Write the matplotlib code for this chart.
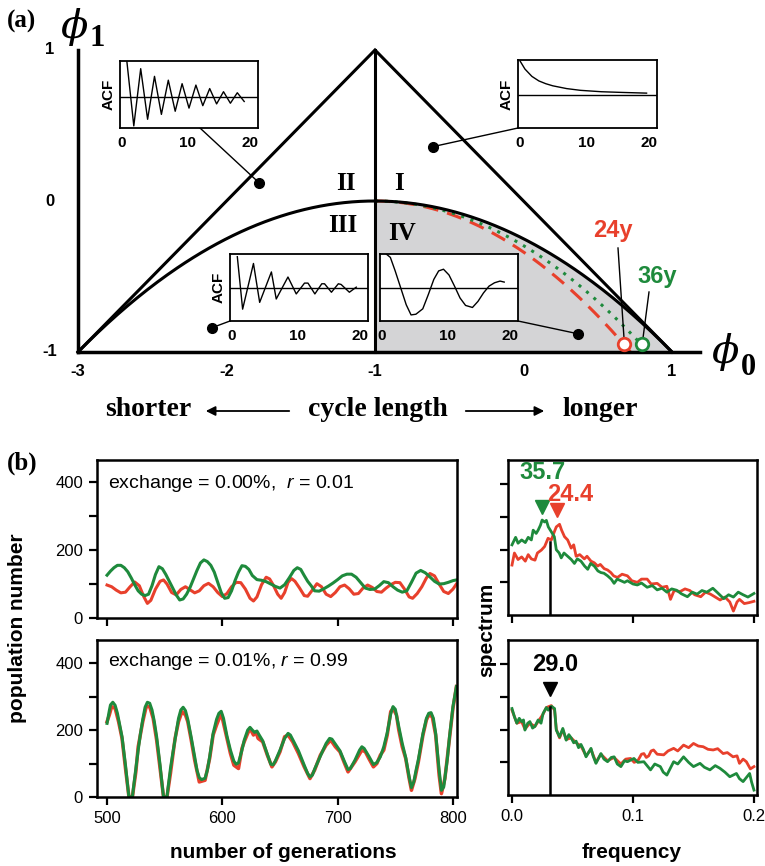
import numpy as np
import matplotlib
matplotlib.use('Agg')
import matplotlib.pyplot as plt

plt.rcParams['font.family'] = ['Liberation Sans', 'DejaVu Sans']
plt.rcParams['mathtext.fontset'] = 'custom'
plt.rcParams['mathtext.it'] = 'Liberation Sans:italic'
plt.rcParams['mathtext.rm'] = 'Liberation Sans'

RED = '#e8402c'
GREEN = '#1e8a3c'
GRAY = '#d4d4d6'
SERIF = ['Liberation Serif', 'DejaVu Serif']

# ---------------- data, panel (a) ----------------
tri_phi0 = [-3, -1, 1]
tri_phi1 = [-1, 1, -1]
# where the boundary / 24y / 36y curves reach phi1 = -1
end_black, end_red, end_green = 1.0, 0.72, 0.84
# AR points the ACF insets belong to (II, I, III, IV)
pt_phi0 = [-1.78, -0.61, -2.10, 0.37]
pt_phi1 = [0.12, 0.36, -0.84, -0.88]
# 24y / 36y points
cyc_phi0 = [0.68, 0.80]
cyc_phi1 = [-0.95, -0.95]

acf_II_lag = list(range(1, 19))
acf_II_val = [1.0, -0.84, 0.8, -0.65, 0.58, -0.51, 0.47, -0.42, 0.37, -0.33,
              0.33, -0.26, 0.23, -0.21, 0.14, -0.19, 0.11, -0.14]
acf_I_lag = [0.3, 1, 2, 3, 4, 5, 7, 9, 12, 15, 18.5]
acf_I_val = [0.97, 0.74, 0.53, 0.4, 0.32, 0.26, 0.18, 0.13, 0.09, 0.07, 0.05]
acf_III_lag = [1.06, 1.83, 3.4, 4.3, 6.0, 6.7, 8.4, 9.6, 10.8, 11.3, 12.3, 13.3,
               13.7, 14.7, 15.7, 16.1, 17.3, 18.3]
acf_III_val = [0.92, -0.63, 0.72, -0.43, 0.47, -0.33, 0.32, -0.18, 0.14, 0.14,
               -0.18, 0.12, 0.12, -0.13, 0.12, 0.1, -0.13, 0.02]
acf_IV_lag = [0.9, 1.5, 2.2, 3.0, 3.8, 4.5, 5.2, 6.2, 7.0, 7.8, 8.5, 9.2, 10.0,
              10.8, 11.6, 12.4, 13.4, 14.2, 15.0, 15.8, 16.6, 17.4, 18.0]
acf_IV_val = [1.0, 0.9, 0.5, 0.0, -0.5, -0.8, -0.78, -0.62, -0.2, 0.25, 0.5, 0.55,
              0.38, 0.05, -0.3, -0.52, -0.58, -0.4, -0.15, 0.05, 0.15, 0.2, 0.17]

# ---------------- data, panel (b): (generation, population) ----------------
top_red = np.array([
    (500, 97), (504, 92), (508, 82), (512, 74), (516, 76), (520, 92), (524, 106), (528, 95),
    (532, 62), (535, 43), (538, 52), (542, 85), (546, 108), (549, 112), (552, 100), (556, 75),
    (560, 68), (564, 84), (568, 92), (572, 83), (576, 74), (580, 80), (584, 95), (588, 102),
    (592, 92), (596, 75), (600, 63), (604, 72), (608, 92), (612, 105), (616, 104), (620, 85),
    (624, 58), (627, 50), (630, 62), (634, 98), (638, 120), (641, 115), (644, 98), (648, 70),
    (651, 58), (654, 75), (657, 105), (660, 116), (663, 108), (667, 88), (671, 66), (674, 64),
    (678, 82), (682, 101), (686, 92), (690, 70), (694, 63), (698, 75), (702, 92), (706, 97),
    (710, 86), (714, 70), (718, 72), (722, 88), (726, 97), (730, 90), (734, 78), (738, 76),
    (742, 88), (746, 98), (750, 105), (754, 104), (758, 85), (762, 62), (765, 58), (769, 72),
    (773, 92), (777, 118), (780, 131), (784, 124), (788, 100), (792, 78), (796, 72), (800, 85),
    (803, 100)])
top_green = np.array([
    (500, 126), (503, 138), (506, 148), (509, 155), (512, 155), (515, 148), (518, 136), (521, 118),
    (524, 98), (527, 80), (530, 70), (533, 66), (536, 70), (539, 95), (542, 128), (545, 151),
    (548, 145), (551, 128), (554, 108), (557, 88), (560, 68), (563, 53), (566, 56), (569, 70),
    (572, 90), (575, 115), (578, 140), (581, 162), (584, 171), (587, 166), (590, 155), (593, 135),
    (596, 105), (599, 75), (602, 58), (605, 60), (608, 80), (611, 110), (614, 135), (617, 154),
    (620, 152), (623, 143), (626, 125), (630, 113), (634, 111), (638, 107), (642, 100), (646, 93),
    (650, 88), (654, 98), (658, 118), (662, 140), (665, 148), (668, 143), (671, 125), (674, 108),
    (677, 95), (680, 80), (684, 79), (688, 86), (692, 94), (696, 103), (700, 113), (704, 124),
    (708, 129), (712, 129), (716, 120), (720, 104), (724, 88), (728, 84), (732, 85), (736, 95),
    (740, 107), (744, 104), (748, 92), (752, 82), (756, 76), (760, 80), (764, 105), (768, 132),
    (772, 140), (776, 133), (780, 121), (784, 108), (788, 100), (792, 101), (796, 105), (800, 110),
    (803, 112)])
bot_red = np.array([
    (500, 225), (502, 245), (504, 270), (507, 265), (510, 225), (513, 175), (516, 85), (519, 0),
    (522, 0), (525, 75), (527, 150), (531, 225), (534, 270), (537, 270), (540, 235), (543, 170),
    (546, 85), (549, 0), (552, 0), (555, 70), (559, 175), (562, 225), (565, 255), (568, 245),
    (570, 225), (573, 170), (576, 110), (580, 45), (585, 50), (589, 115), (592, 185), (595, 215),
    (599, 250), (602, 205), (604, 175), (607, 130), (610, 95), (614, 85), (617, 145), (619, 165),
    (622, 190), (624, 205), (627, 185), (629, 195), (631, 175), (635, 165), (639, 125), (643, 90),
    (646, 105), (650, 135), (654, 180), (657, 185), (661, 165), (666, 130), (671, 90), (676, 55),
    (680, 80), (685, 125), (690, 155), (694, 170), (698, 150), (702, 135), (706, 100), (709, 75),
    (712, 90), (715, 105), (721, 140), (724, 135), (727, 115), (731, 90), (734, 100), (737, 125),
    (740, 140), (743, 185), (746, 255), (748, 265), (751, 245), (753, 200), (756, 150), (759, 115),
    (762, 55), (764, 20), (767, 55), (770, 105), (774, 185), (777, 230), (779, 245), (782, 240),
    (785, 185), (788, 65), (790, 10), (793, 55), (797, 175), (800, 265), (803, 330)])
bot_green = np.array([
    (500, 220), (502, 258), (503, 275), (505, 283), (507, 274), (509, 250), (511, 215), (513, 180),
    (516, 95), (518, 30), (519, 0), (522, 0), (523, 30), (525, 85), (527, 140), (529, 190),
    (531, 232), (533, 268), (535, 283), (537, 280), (539, 260), (541, 225), (543, 180), (546, 95),
    (548, 30), (549, 0), (552, 0), (553, 30), (555, 85), (557, 130), (559, 172), (562, 235),
    (564, 260), (566, 268), (568, 258), (570, 232), (573, 178), (576, 120), (578, 80), (580, 58),
    (582, 52), (585, 56), (587, 80), (589, 120), (592, 190), (595, 232), (597, 250), (599, 256),
    (601, 235), (604, 182), (607, 140), (610, 107), (612, 98), (614, 102), (617, 140), (619, 170),
    (622, 200), (624, 208), (626, 200), (628, 193), (630, 197), (632, 185), (635, 168), (639, 128),
    (642, 98), (644, 96), (646, 108), (650, 140), (654, 175), (657, 190), (659, 185), (662, 165),
    (666, 138), (671, 95), (674, 70), (676, 60), (678, 65), (680, 83), (685, 122), (690, 160),
    (693, 175), (695, 173), (698, 158), (702, 138), (706, 105), (709, 82), (711, 85), (715, 110),
    (719, 140), (721, 150), (723, 145), (727, 122), (731, 97), (734, 103), (737, 120), (740, 150),
    (743, 192), (746, 248), (748, 270), (750, 262), (753, 210), (756, 160), (759, 118), (762, 60),
    (764, 28), (766, 45), (768, 80), (770, 112), (774, 190), (777, 235), (779, 250), (781, 252),
    (783, 235), (785, 190), (788, 80), (790, 20), (792, 30), (795, 110), (797, 180), (800, 270),
    (803, 330)])

# ---------------- spectra: (frequency, spectrum) ----------------
spec_top_green = np.array([
    (0.0, 2.15), (0.003, 2.38), (0.005, 2.2), (0.008, 2.3), (0.011, 2.22), (0.0134, 2.38),
    (0.016, 2.3), (0.0175, 2.6), (0.02, 2.5), (0.0216, 2.6), (0.0235, 2.75), (0.0249, 2.91),
    (0.027, 2.85), (0.0284, 2.9), (0.03, 2.7), (0.0325, 2.55), (0.035, 2.4), (0.0366, 2.0),
    (0.039, 1.9), (0.0407, 1.75), (0.043, 1.9), (0.046, 1.8), (0.049, 1.7), (0.0516, 1.58),
    (0.054, 1.72), (0.057, 1.65), (0.06, 1.5), (0.0626, 1.4), (0.065, 1.58), (0.068, 1.5),
    (0.071, 1.35), (0.0735, 1.3), (0.076, 1.28), (0.079, 1.2), (0.082, 1.1), (0.0844, 0.97),
    (0.087, 1.1), (0.09, 1.05), (0.093, 1.0), (0.0954, 1.05), (0.1, 0.95), (0.1036, 0.92),
    (0.107, 0.98), (0.1117, 0.85), (0.116, 0.9), (0.12, 0.77), (0.124, 0.82), (0.128, 0.7),
    (0.132, 0.8), (0.136, 0.76), (0.14, 0.65), (0.145, 0.56), (0.149, 0.7), (0.153, 0.64),
    (0.157, 0.75), (0.161, 0.7), (0.166, 0.82), (0.17, 0.68), (0.175, 0.5), (0.179, 0.62),
    (0.183, 0.55), (0.187, 0.7), (0.191, 0.62), (0.195, 0.55), (0.2, 0.66)])
spec_top_red = np.array([
    (0.0, 1.53), (0.002, 1.9), (0.005, 1.7), (0.008, 1.78), (0.011, 1.65), (0.0134, 1.85),
    (0.016, 1.72), (0.019, 1.68), (0.021, 1.9), (0.0243, 1.99), (0.027, 2.1), (0.0298, 2.35),
    (0.0325, 2.3), (0.035, 2.55), (0.0366, 2.7), (0.0393, 2.78), (0.041, 2.6), (0.0434, 2.4),
    (0.046, 2.3), (0.0489, 2.05), (0.051, 2.15), (0.053, 1.8), (0.056, 1.85), (0.0598, 1.72),
    (0.062, 1.8), (0.0653, 1.65), (0.068, 1.6), (0.0708, 1.5), (0.073, 1.55), (0.0762, 1.42),
    (0.079, 1.38), (0.0817, 1.3), (0.084, 1.2), (0.0871, 1.15), (0.091, 1.25), (0.0954, 1.2),
    (0.099, 1.05), (0.1036, 1.0), (0.107, 1.1), (0.1117, 1.1), (0.115, 0.95), (0.12, 0.97),
    (0.124, 0.85), (0.128, 0.88), (0.131, 0.48), (0.134, 0.75), (0.139, 0.72), (0.143, 0.8),
    (0.147, 0.75), (0.151, 0.62), (0.156, 0.56), (0.16, 0.7), (0.164, 0.64), (0.168, 0.55),
    (0.172, 0.46), (0.176, 0.55), (0.18, 0.4), (0.183, 0.12), (0.186, 0.4), (0.188, 0.48),
    (0.192, 0.35), (0.196, 0.38), (0.2, 0.42)])
spec_bot_green = np.array([
    (0.0, 2.65), (0.002, 2.4), (0.004, 2.2), (0.006, 2.35), (0.0079, 2.25), (0.0095, 2.3),
    (0.0107, 1.99), (0.013, 2.2), (0.0148, 2.25), (0.017, 2.05), (0.0189, 2.1), (0.0216, 2.3),
    (0.024, 2.2), (0.0257, 2.5), (0.0284, 2.68), (0.03, 2.6), (0.0325, 2.72), (0.0352, 2.65),
    (0.0366, 1.99), (0.0393, 1.78), (0.042, 2.04), (0.0448, 1.68), (0.047, 1.85), (0.0489, 1.75),
    (0.051, 1.6), (0.053, 1.65), (0.055, 1.45), (0.057, 1.55), (0.059, 1.4), (0.0612, 1.17),
    (0.0653, 1.43), (0.067, 1.2), (0.0694, 0.97), (0.0735, 1.27), (0.076, 1.1), (0.079, 1.02),
    (0.082, 1.15), (0.0844, 1.17), (0.087, 0.95), (0.09, 0.87), (0.093, 1.05), (0.0954, 1.02),
    (0.1008, 1.12), (0.104, 1.0), (0.109, 1.02), (0.1145, 0.77), (0.118, 0.95), (0.1226, 0.87),
    (0.125, 0.7), (0.128, 0.61), (0.1336, 1.02), (0.137, 0.95), (0.1418, 1.17), (0.146, 1.0),
    (0.15, 0.87), (0.1554, 0.97), (0.159, 0.85), (0.1636, 0.77), (0.168, 0.9), (0.1718, 0.82),
    (0.176, 0.7), (0.18, 0.56), (0.1855, 0.66), (0.188, 0.5), (0.191, 0.41), (0.1964, 0.66),
    (0.198, 0.4), (0.2, 0.15)])
spec_bot_red = np.array([
    (0.0, 2.6), (0.004, 2.2), (0.0079, 2.25), (0.0107, 2.02), (0.0148, 2.2), (0.0189, 2.1),
    (0.0216, 2.25), (0.0257, 2.48), (0.0284, 2.68), (0.0325, 2.74), (0.0352, 2.6), (0.0366, 2.02),
    (0.0393, 1.75), (0.042, 2.0), (0.0448, 1.7), (0.0489, 1.75), (0.053, 1.6), (0.057, 1.5),
    (0.0612, 1.2), (0.0653, 1.4), (0.0694, 1.0), (0.0735, 1.25), (0.079, 1.05), (0.0844, 1.15),
    (0.09, 0.95), (0.094, 1.1), (0.098, 1.12), (0.101, 1.0), (0.104, 1.05), (0.107, 1.25),
    (0.109, 1.27), (0.111, 1.15), (0.113, 1.2), (0.115, 1.35), (0.117, 1.38), (0.12, 1.25),
    (0.1254, 1.23), (0.129, 1.35), (0.1336, 1.43), (0.137, 1.35), (0.1418, 1.53), (0.146, 1.45),
    (0.15, 1.58), (0.154, 1.5), (0.158, 1.48), (0.162, 1.4), (0.1663, 1.38), (0.17, 1.42),
    (0.1745, 1.27), (0.178, 1.3), (0.1827, 1.17), (0.186, 1.2), (0.188, 0.97), (0.191, 1.1),
    (0.1937, 1.02), (0.197, 0.8), (0.2, 0.87)])

peak_f_top = [0.0249, 0.0372]      # 35.7 (green), 24.4 (red)
peak_f_bot = 0.031                 # 29.0
peak_line_top = 2.25
peak_line_bot = 2.7

# ---------------- layout helpers ----------------
W, H = 765, 866
fig = plt.figure(figsize=(W / 100, H / 100), dpi=100)


def fig_box(x0, y0, x1, y1):
    return [x0 / W, 1 - y1 / H, (x1 - x0) / W, (y1 - y0) / H]


def fpx(x, y):
    return (x / W, 1 - y / H)


def to_phi(x, y):
    return (-3 + (x - 78) / 148.5, 1 - (y - 50) / 151)


# ================= panel (a) =================
ax = fig.add_axes(fig_box(40, 30, 720, 385))
ax.set_xlim(to_phi(40, 0)[0], to_phi(720, 0)[0])
ax.set_ylim(to_phi(0, 385)[1], to_phi(0, 30)[1])
ax.axis('off')

# shaded region IV (complex roots, right of phi0=-1)
p0 = np.linspace(-1, end_black, 200)
ax.fill_between(p0, -1, -(p0 + 1) ** 2 / (end_black + 1) ** 2, color=GRAY, lw=0, zorder=1)

pr = np.linspace(-1, end_red, 200)
ax.plot(pr, -(pr + 1) ** 2 / (end_red + 1) ** 2, color=RED, lw=2.2,
        dashes=(5, 3), zorder=2)
pg = np.linspace(-1, end_green, 200)
ax.plot(pg, -(pg + 1) ** 2 / (end_green + 1) ** 2, color=GREEN, lw=2.2,
        dashes=(1, 2.2), zorder=2)

pb = np.linspace(-3, end_black, 300)
ax.plot(pb, -(pb + 1) ** 2 / (end_black + 1) ** 2, color='k', lw=2.2, zorder=3)
ax.plot(tri_phi0, tri_phi1, color='k', lw=2.2, zorder=3, solid_joinstyle='miter')
ax.plot([-1, -1], [-1, 1], color='k', lw=2.2, zorder=3)
ax.plot([-3, -3], [-1, 1], color='k', lw=2.5, zorder=3)
ax.plot([-3, to_phi(700, 0)[0]], [-1, -1], color='k', lw=2.5, zorder=3)

# tick labels
for v in [-3, -2, -1, 0, 1]:
    ax.text(v, to_phi(0, 372)[1], str(v), ha='center', va='center',
            fontsize=12, fontweight='bold')
for v in [1, 0, -1]:
    ax.text(to_phi(50, 0)[0], v, str(v), ha='center', va='center',
            fontsize=12, fontweight='bold')

# region labels
for lab, (xp, yp) in {'II': (346, 183), 'I': (399, 183),
                      'III': (343, 226), 'IV': (402, 234)}.items():
    ax.text(*to_phi(xp, yp), lab, ha='center', va='center', fontsize=18,
            fontweight='bold', family=SERIF, zorder=4)

# 24y / 36y
ax.plot(cyc_phi0[0], cyc_phi1[0], 'o', ms=9, mfc='white', mec=RED, mew=2, zorder=6)
ax.plot(cyc_phi0[1], cyc_phi1[1], 'o', ms=9, mfc='white', mec=GREEN, mew=2, zorder=6)
ax.plot(*zip(to_phi(618, 248), to_phi(624, 338)), color='k', lw=1, zorder=5)
ax.plot(*zip(to_phi(649, 292), to_phi(643, 338)), color='k', lw=1, zorder=5)
ax.text(*to_phi(613, 231), '24y', color=RED, fontsize=17, fontweight='bold',
        ha='center', va='center')
ax.text(*to_phi(657, 277), '36y', color=GREEN, fontsize=17, fontweight='bold',
        ha='center', va='center')

# axis symbols
fig.text(*fpx(22, 21), '(a)', fontsize=18, fontweight='bold', family=SERIF,
         ha='center', va='center')
fig.text(*fpx(74, 27), '\u03d5', fontsize=29, style='italic', family=['DejaVu Serif'],
         ha='center', va='center')
fig.text(*fpx(97, 38), '1', fontsize=22, fontweight='bold', family=SERIF,
         ha='center', va='center')
fig.text(*fpx(725, 352), '\u03d5', fontsize=29, style='italic', family=['DejaVu Serif'],
         ha='center', va='center')
fig.text(*fpx(748, 367), '0', fontsize=22, fontweight='bold', family=SERIF,
         ha='center', va='center')

# cycle-length row
for lab, xp in [('shorter', 148), ('cycle length', 378), ('longer', 600)]:
    fig.text(*fpx(xp, 410), lab, fontsize=20, fontweight='bold', family=SERIF,
             ha='center', va='center')
arrow = dict(arrowstyle='-|>', color='k', lw=1.3, mutation_scale=14)
ax.annotate('', xy=fpx(203, 411), xytext=fpx(292, 411), xycoords='figure fraction',
            textcoords='figure fraction', arrowprops=arrow)
ax.annotate('', xy=fpx(547, 411), xytext=fpx(463, 411), xycoords='figure fraction',
            textcoords='figure fraction', arrowprops=arrow)

# dots + connectors
corners = [(200, 128), (518, 128), (230, 321), (518, 321)]
for (cx, cy), px, py in zip(corners, pt_phi0, pt_phi1):
    qx, qy = to_phi(cx, cy)
    ax.plot([qx, px], [qy, py], color='k', lw=1, zorder=5)
    ax.plot(px, py, 'o', color='k', ms=7, zorder=6)


def acf_inset(box, lags, vals, ylim, ylabel=True):
    iax = fig.add_axes(fig_box(*box))
    iax.plot(lags, vals, color='k', lw=1)
    iax.axhline(0, color='k', lw=1)
    iax.set_xlim(0, 20)
    iax.set_ylim(*ylim)
    iax.set_xticks([])
    iax.set_yticks([])
    for s in iax.spines.values():
        s.set_linewidth(1.3)
    hpx = box[3] - box[1]
    wpx = box[2] - box[0]
    for v, off in ((0, 2), (10, -1), (20, -8)):
        iax.text(v / 20 + off / wpx, -15 / hpx, str(v), transform=iax.transAxes,
                 ha='center', va='center', fontsize=11, fontweight='bold')
    if ylabel:
        iax.text(-4 / wpx, 0.5, 'ACF', transform=iax.transAxes, rotation=90,
                 ha='right', va='center', fontsize=11, fontweight='bold')
    return iax


acf_inset((120, 61, 258, 128), acf_II_lag, acf_II_val, (-0.9, 1.02))
acf_inset((518, 60, 657, 128), acf_I_lag, acf_I_val, (-0.95, 1.0))
acf_inset((230, 254, 368, 321), acf_III_lag, acf_III_val, (-0.98, 1.0))
acf_inset((380, 254, 518, 321), acf_IV_lag, acf_IV_val, (-0.98, 1.0), ylabel=False)

# ================= panel (b) =================
fig.text(*fpx(22, 463), '(b)', fontsize=18, fontweight='bold', family=SERIF,
         ha='center', va='center')

axTL = fig.add_axes(fig_box(97, 460, 457, 618))
axBL = fig.add_axes(fig_box(97, 640, 457, 797))
axTR = fig.add_axes(fig_box(508, 460, 757, 615))
axBR = fig.add_axes(fig_box(508, 640, 757, 795))

axTL.plot(top_red[:, 0], top_red[:, 1], color=RED, lw=2.2)
axTL.plot(top_green[:, 0], top_green[:, 1], color=GREEN, lw=2.2)
axBL.plot(bot_red[:, 0], bot_red[:, 1], color=RED, lw=2.5)
axBL.plot(bot_green[:, 0], bot_green[:, 1], color=GREEN, lw=2.2)

axTL.set_ylim(0, 465)
axBL.set_ylim(0, 469)
for a in (axTL, axBL):
    a.set_xlim(491.3, 803.5)
    a.set_yticks([0, 200, 400])
    a.set_yticks([100, 300], minor=True)
    a.set_xticks([500, 600, 700, 800])
axTL.set_xticklabels([])
axTL.text(0.03, 0.85, 'exchange = 0.00%,  $\\it{r}$ = 0.01', transform=axTL.transAxes,
          fontsize=14, va='center')
axBL.text(0.03, 0.86, 'exchange = 0.01%, $\\it{r}$ = 0.99', transform=axBL.transAxes,
          fontsize=14, va='center')

axTR.plot(spec_top_red[:, 0], spec_top_red[:, 1], color=RED, lw=2)
axTR.plot(spec_top_green[:, 0], spec_top_green[:, 1], color=GREEN, lw=2)
axBR.plot(spec_bot_red[:, 0], spec_bot_red[:, 1], color=RED, lw=2)
axBR.plot(spec_bot_green[:, 0], spec_bot_green[:, 1], color=GREEN, lw=2)
for a in (axTR, axBR):
    a.set_xlim(-0.0033, 0.2025)
    a.set_ylim(0, 4.75)
    a.set_yticks([1, 2, 3, 4])
    a.set_yticklabels([])
    a.set_xticks([0, 0.1, 0.2])
axTR.set_xticklabels([])
axBR.set_xticklabels(['0.0', '0.1', '0.2'])

axTR.plot([0.031, 0.031], [0, peak_line_top], color='k', lw=1.8)
axBR.plot([peak_f_bot, peak_f_bot], [0, peak_line_bot], color='k', lw=1.8)
axTR.plot(peak_f_top[0], 3.3, marker='v', color=GREEN, ms=10, ls='none')
axTR.plot(peak_f_top[1], 3.22, marker='v', color=RED, ms=10, ls='none')
axBR.plot(peak_f_bot, 3.25, marker='v', color='k', ms=10, ls='none')
axTR.text(0.0256, 4.36, '35.7', color=GREEN, fontsize=17, fontweight='bold',
          ha='center', va='center')
axTR.text(0.048, 3.7, '24.4', color=RED, fontsize=17, fontweight='bold',
          ha='center', va='center')
axBR.text(0.0355, 4.0, '29.0', color='k', fontsize=17, fontweight='bold',
          ha='center', va='center')

for a in (axTL, axBL, axTR, axBR):
    for s in a.spines.values():
        s.set_linewidth(1.8)
    a.tick_params(which='both', direction='out', length=6, width=1.6,
                  labelsize=12, pad=4)

fig.text(*fpx(18, 628), 'population number', rotation=90, fontsize=15,
         fontweight='bold', ha='center', va='center')
fig.text(*fpx(487, 630), 'spectrum', rotation=90, fontsize=15,
         fontweight='bold', ha='center', va='center')
fig.text(*fpx(283, 852), 'number of generations', fontsize=15,
         fontweight='bold', ha='center', va='center')
fig.text(*fpx(632, 852), 'frequency', fontsize=15,
         fontweight='bold', ha='center', va='center')

plt.savefig('out.png', dpi=100)
